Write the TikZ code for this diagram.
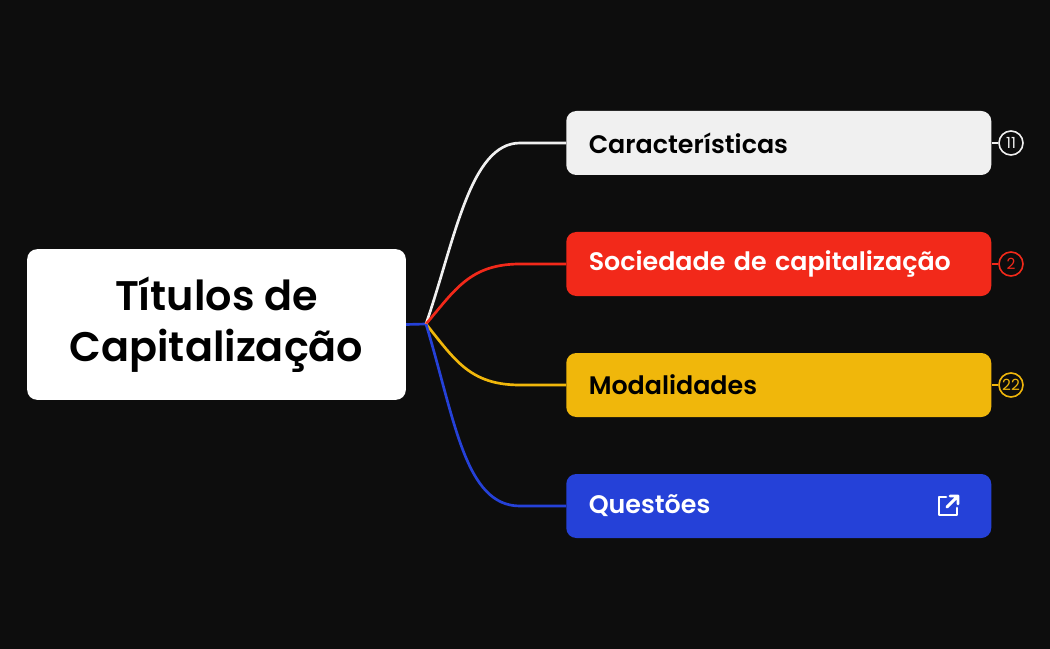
\documentclass[tikz,border=0pt]{standalone}
\usepackage{fontspec}
\setmainfont{Poppins}[BoldFont={Poppins SemiBold}]
\definecolor{bg}{HTML}{0D0D0D}
\definecolor{cw}{HTML}{F0F0F0}
\definecolor{cr}{HTML}{F2291A}
\definecolor{cy}{HTML}{F0B70B}
\definecolor{cb}{HTML}{2541D8}
\begin{document}
\begin{tikzpicture}[x={(0.75pt,0)},y={(0,-0.75pt)},
  child/.style={rounded corners=7.5pt,minimum width=318.75pt,minimum height=48pt,anchor=west,text width=285pt,inner xsep=16.5pt,align=left,font=\fontsize{19}{22}\selectfont\bfseries},
  badge/.style={circle,draw,line width=1.2pt,minimum size=18pt,inner sep=0pt,font=\fontsize{11.5}{12}\selectfont},
  conn/.style={line width=2pt}]
\fill[bg] (0,0) rectangle (1050,649);
\node[fill=white,rounded corners=7.5pt,minimum width=284pt,minimum height=113pt,align=center,font=\fontsize{31}{38}\selectfont\bfseries] (root) at (216.5,324.5) {Títulos de\\Capitalização};
\coordinate (hub) at (426,324);
\node[child,fill=cw,text=black] (c1) at (566,143) {Características};
\node[child,fill=cr,text=white] (c2) at (566,264) {Sociedade de capitalização};
\node[child,fill=cy,text=black] (c3) at (566,385) {Modalidades};
\node[child,fill=cb,text=white] (c4) at (566,506) {Questões};
\draw[conn,cb] (root.east) -- (hub);
\draw[conn,cw] (hub) .. controls (455,240) and (470,143) .. (520,143) -- (c1.west);
\draw[conn,cr] (hub) .. controls (455,290) and (470,264) .. (520,264) -- (c2.west);
\draw[conn,cy] (hub) .. controls (455,360) and (470,385) .. (520,385) -- (c3.west);
\draw[conn,cb] (hub) .. controls (455,420) and (465,506) .. (520,506) -- (c4.west);
\node[badge,draw=cw,text=cw] (b1) at (1011,143) {11};
\node[badge,draw=cr,text=cr] (b2) at (1011,264) {2};
\node[badge,draw=cy,text=cy] (b3) at (1011,385) {22};
\draw[cw,line width=1.5pt] (c1.east) -- (b1.west);
\draw[cr,line width=1.5pt] (c2.east) -- (b2.west);
\draw[cy,line width=1.5pt] (c3.east) -- (b3.west);
\draw[white,line width=2.2pt,line cap=round,line join=round] (946,497) -- (939,497) -- (939,515) -- (957,515) -- (957,508);
\draw[white,line width=2.2pt,line cap=round,line join=round] (947,507) -- (958,496) (950,496) -- (958,496) -- (958,504);
\end{tikzpicture}
\end{document}
